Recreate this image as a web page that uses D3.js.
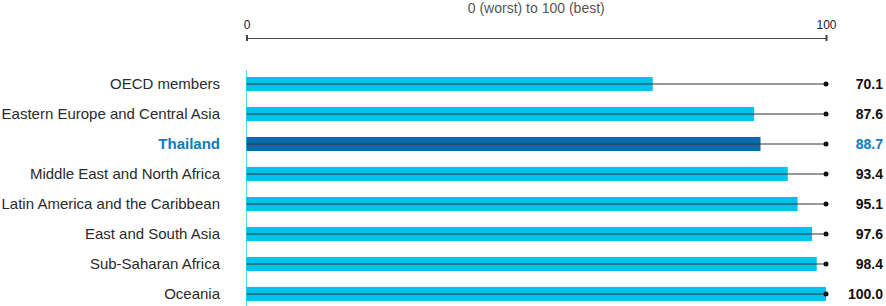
<html lang="en">
<head>
  <meta charset="UTF-8"/>
  <title>Scores by region</title>
  <script src="https://d3js.org/d3.v7.min.js"></script>
</head>
<style>
body {
  margin: 0;
  font-family: 'Liberation Sans', Arial, sans-serif;
  background: #fff;
}

svg {
  display: block;
}

text.cat {
  font-size: 15px;
  fill: #2a2a2a;
}

text.value {
  font-size: 14px;
  font-weight: 700;
  fill: #111;
}

text.title {
  font-size: 14px;
  fill: #555;
}

.axis path, .axis line {
  stroke: #444;
}

.axis text {
  font-size: 12px;
  fill: #222;
}
</style>
<body>
<svg width="886" height="306"></svg>
<script>
    const categories = [
      'OECD members',
      'Eastern Europe and Central Asia',
      'Thailand',
      'Middle East and North Africa',
      'Latin America and the Caribbean',
      'East and South Asia',
      'Sub-Saharan Africa',
      'Oceania'
    ];
    const values = [70.1, 87.6, 88.7, 93.4, 95.1, 97.6, 98.4, 100.0];
    const highlight = 'Thailand';
    const axisTicks = [0, 100];

    const data = categories.map((c, i) => ({ name: c, value: values[i] }));

    const svg = d3.select('svg');

    const xScale = d3.scaleLinear()
      .domain([0, 100])
      .range([246.5, 826]);

    const yScale = d3.scaleBand()
      .domain(categories)
      .range([69, 309])
      .paddingInner(0.53)
      .paddingOuter(0.265);

    // top axis
    const axis = svg.append('g')
      .attr('class', 'axis')
      .attr('transform', 'translate(0, 38)')
      .call(d3.axisTop(xScale).tickValues(axisTicks).tickSize(3).tickSizeOuter(0).tickPadding(6));
    axis.selectAll('.tick line').attr('y2', 3).attr('y1', -3).attr('stroke-width', 2);

    svg.append('text')
      .attr('class', 'title')
      .attr('x', (xScale(0) + xScale(100)) / 2)
      .attr('y', 13)
      .attr('text-anchor', 'middle')
      .text('0 (worst) to 100 (best)');

    // baseline
    svg.append('line')
      .attr('x1', xScale(0))
      .attr('x2', xScale(0))
      .attr('y1', 70)
      .attr('y2', 306)
      .attr('stroke', '#5fd3ee')
      .attr('stroke-width', 1);

    const rows = svg.selectAll('g.row')
      .data(data)
      .enter()
      .append('g')
      .attr('class', 'row');

    rows.append('rect')
      .attr('x', xScale(0))
      .attr('y', (d) => yScale(d.name))
      .attr('width', (d) => xScale(d.value) - xScale(0))
      .attr('height', yScale.bandwidth())
      .attr('fill', (d) => d.name === highlight ? '#0a6aab' : '#00c3ec');

    const mid = (d) => yScale(d.name) + yScale.bandwidth() / 2;

    rows.append('line')
      .attr('x1', xScale(0))
      .attr('x2', xScale(100))
      .attr('y1', mid)
      .attr('y2', mid)
      .attr('stroke', '#333')
      .attr('stroke-width', 1);

    rows.append('circle')
      .attr('cx', xScale(100))
      .attr('cy', mid)
      .attr('r', 2.5)
      .attr('fill', '#111');

    rows.append('text')
      .attr('class', 'cat')
      .attr('x', 220)
      .attr('y', mid)
      .attr('dy', '0.35em')
      .attr('text-anchor', 'end')
      .style('font-weight', (d) => d.name === highlight ? 700 : 400)
      .style('fill', (d) => d.name === highlight ? '#0a7bc1' : null)
      .text((d) => d.name);

    rows.append('text')
      .attr('class', 'value')
      .attr('x', 883)
      .attr('y', mid)
      .attr('dy', '0.35em')
      .attr('text-anchor', 'end')
      .style('fill', (d) => d.name === highlight ? '#0a7bc1' : null)
      .text((d) => d.value.toFixed(1));
</script>
</body>
</html>
